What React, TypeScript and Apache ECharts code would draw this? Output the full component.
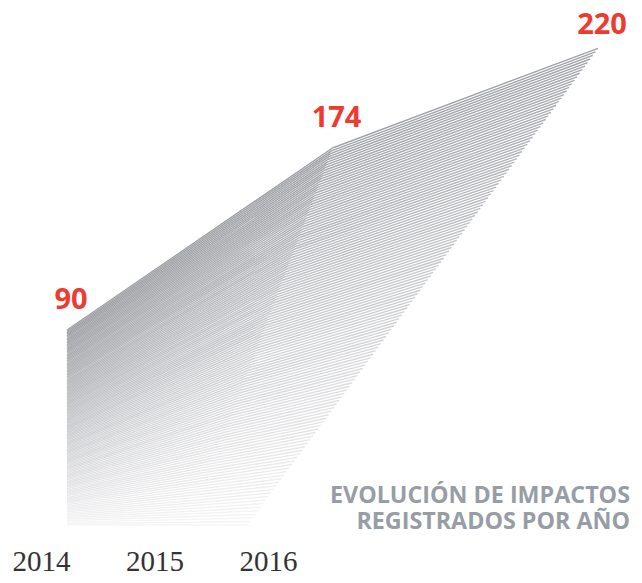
import React, { useEffect, useRef } from "react";
import * as echarts from "echarts";

// Data
const years = ["2014", "2015", "2016"];
const impacts = [90, 174, 220];
const titleLines = ["EVOLUCIÓN DE IMPACTOS", "REGISTRADOS POR AÑO"];

// Decorative "fan" parameters (style, not data)
const LINE_COUNT = 135;
const BASE_X = [0, 0.463, 0.68]; // x positions (axis units) of the collapsed bottom line
const TOP_COLOR = [160, 162, 167];
const BOTTOM_COLOR = [245, 245, 246];
const LABEL_DISTANCE = [17, 17, 11];

const lerp = (a: number, b: number, t: number) => a + (b - a) * t;

export default function App() {
  const ref = useRef<HTMLDivElement>(null);
  useEffect(() => {
    if (!ref.current) return;
    const chart = echarts.init(ref.current, undefined, { renderer: "svg" });
    const series: any[] = [];
    for (let k = LINE_COUNT - 1; k >= 0; k--) {
      const t = k / (LINE_COUNT - 1);
      const c = TOP_COLOR.map((v, i) => Math.round(lerp(v, BOTTOM_COLOR[i], t)));
      const isTop = k === 0;
      const data = impacts.map((v, j) => {
        const point = [lerp(j, BASE_X[j], t), v * (1 - t)];
        return isTop
          ? { value: point, label: { distance: LABEL_DISTANCE[j] } }
          : point;
      });
      series.push({
        type: "line",
        xAxisIndex: 0,
        yAxisIndex: 0,
        data,
        symbol: isTop ? "circle" : "none",
        symbolSize: isTop ? 0.01 : 0,
        showSymbol: isTop,
        silent: true,
        lineStyle: { color: `rgb(${c[0]},${c[1]},${c[2]})`, width: 1.4 },
        itemStyle: { color: `rgb(${c[0]},${c[1]},${c[2]})`, opacity: 0 },
        z: 2,
        label: isTop
          ? {
              show: true,
              position: "top",
              distance: 17,
              offset: [4, 0],
              formatter: (p: any) => String(impacts[p.dataIndex]),
              color: "#ee3a2f",
              fontFamily: "Open Sans",
              fontWeight: "bold",
              fontSize: 29,
              lineHeight: 30,
              opacity: 1,
            }
          : { show: false },
      });
    }
    chart.setOption({
      animation: false,
      backgroundColor: "#ffffff",
      grid: [
        { left: 67, right: 44, top: 5, bottom: 58 },
        { left: 41.5, right: 373.5, top: 5, bottom: 58 },
      ],
      xAxis: [
        { type: "value", gridIndex: 0, min: 0, max: 2, show: false },
        {
          type: "category",
          gridIndex: 1,
          data: years,
          boundaryGap: false,
          axisLine: { show: false },
          axisTick: { show: false },
          splitLine: { show: false },
          axisLabel: {
            margin: 21,
            color: "#333333",
            fontFamily: "Liberation Serif",
            fontSize: 29,
            lineHeight: 30,
          },
        },
      ],
      yAxis: [
        { type: "value", gridIndex: 0, min: 0, max: 240, show: false },
        { type: "value", gridIndex: 1, min: 0, max: 240, show: false },
      ],
      graphic: titleLines.map((line, i) => ({
        type: "text",
        right: 12,
        top: 482 + i * 26,
        style: {
          text: line,
          textAlign: "right",
          fill: "#979da5",
          fontFamily: "Open Sans",
          fontWeight: "bold",
          fontSize: 23.3,
          lineHeight: 22,
        },
      })),
      series,
    });
    return () => chart.dispose();
  }, []);
  return (
    <div
      ref={ref}
      style={{ position: "absolute", left: 0, top: 0, width: 642, height: 583 }}
    />
  );
}
